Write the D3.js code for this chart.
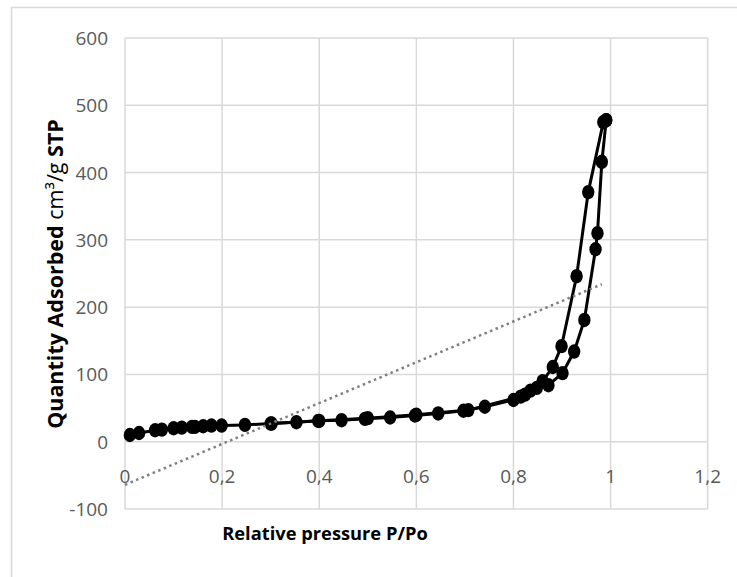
<!DOCTYPE html>
<html lang="en">
<head>
    <meta charset="UTF-8">
    <title>Adsorption isotherm</title>
    <style>
        body { margin: 0; background: #fff; }
        #chart-container { width: 737px; height: 577px; }
        .tick-label { font-family: "Open Sans", sans-serif; font-size: 19px; fill: #595959; }
        .axis-title { font-family: "Open Sans", sans-serif; fill: #000; }
    </style>
    <script src="https://cdnjs.cloudflare.com/ajax/libs/d3/7.8.5/d3.min.js"></script>
</head>
<body>
    <div id="chart-container"></div>

    <script>
        // Adsorption branch (P/Po, quantity adsorbed)
        const adsP = [0.010, 0.029, 0.062, 0.076, 0.100, 0.117, 0.138, 0.144, 0.161, 0.178, 0.199, 0.247, 0.302, 0.353, 0.398,
                      0.446, 0.494, 0.546, 0.597, 0.645, 0.697, 0.741, 0.800, 0.824, 0.848, 0.872, 0.901, 0.925, 0.946,
                      0.969, 0.973, 0.982, 0.991];
        const adsQ = [10, 13, 17, 18, 20, 21, 22, 22, 23, 24, 24, 25, 27, 29, 31,
                      32, 34, 36, 39, 42, 46, 52, 62, 70, 80, 84, 102, 134, 181,
                      286, 310, 416, 478];

        // Desorption branch
        const desP = [0.991, 0.985, 0.954, 0.930, 0.899, 0.881, 0.860, 0.835, 0.815, 0.707, 0.600, 0.500, 0.400, 0.300];
        const desQ = [478, 475, 371, 246, 142, 111, 90, 76, 67, 47, 40, 35, 31, 27];

        // Linear trendline end points
        const trendP = [0, 0.982];
        const trendQ = [-64, 234];

        const xTicks = [0, 0.2, 0.4, 0.6, 0.8, 1, 1.2];
        const yTicks = [-100, 0, 100, 200, 300, 400, 500, 600];

        const W = 737, H = 577;
        const plot = { left: 125, right: 707.7, top: 38, bottom: 509 };

        const svg = d3.select("#chart-container")
            .append("svg")
            .attr("width", W)
            .attr("height", H);

        // chart frame
        svg.append("rect")
            .attr("x", 11.5).attr("y", 7.5)
            .attr("width", 800).attr("height", 700)
            .attr("fill", "none")
            .attr("stroke", "#d9d9d9")
            .attr("stroke-width", 1.5);

        const x = d3.scaleLinear().domain([0, 1.2]).range([plot.left, plot.right]);
        const y = d3.scaleLinear().domain([-100, 600]).range([plot.bottom, plot.top]);

        const fmt = d => String(+d.toFixed(1)).replace(".", ",");

        // gridlines
        svg.append("g")
            .selectAll("line")
            .data(xTicks)
            .join("line")
            .attr("x1", d => x(d)).attr("x2", d => x(d))
            .attr("y1", plot.top).attr("y2", plot.bottom)
            .attr("stroke", "#d9d9d9").attr("stroke-width", 1.5);

        svg.append("g")
            .selectAll("line")
            .data(yTicks)
            .join("line")
            .attr("x1", plot.left).attr("x2", plot.right)
            .attr("y1", d => y(d)).attr("y2", d => y(d))
            .attr("stroke", "#d9d9d9").attr("stroke-width", 1.5);

        // tick labels
        svg.append("g")
            .selectAll("text")
            .data(yTicks)
            .join("text")
            .attr("class", "tick-label")
            .attr("x", 108)
            .attr("y", d => y(d) + 7)
            .attr("text-anchor", "end")
            .text(d => d);

        svg.append("g")
            .selectAll("text")
            .data(xTicks)
            .join("text")
            .attr("class", "tick-label")
            .attr("x", d => x(d))
            .attr("y", y(0) + 41)
            .attr("text-anchor", "middle")
            .text(fmt);

        // series
        const line = d3.line()
            .x(d => x(d[0]))
            .y(d => y(d[1]));

        const series = [d3.zip(adsP, adsQ), d3.zip(desP, desQ)];

        svg.append("g")
            .selectAll("path")
            .data(series)
            .join("path")
            .attr("d", line)
            .attr("fill", "none")
            .attr("stroke", "#000")
            .attr("stroke-width", 3);

        svg.append("g")
            .selectAll("ellipse")
            .data(series.flat())
            .join("ellipse")
            .attr("cx", d => x(d[0]))
            .attr("cy", d => y(d[1]))
            .attr("rx", 6.2)
            .attr("ry", 7.2)
            .attr("fill", "#000");

        // dotted trendline
        svg.append("path")
            .attr("d", line(d3.zip(trendP, trendQ)))
            .attr("fill", "none")
            .attr("stroke", "#7f7f7f")
            .attr("stroke-width", 2.5)
            .attr("stroke-dasharray", "2.5,3.5");

        // axis titles
        svg.append("text")
            .attr("class", "axis-title")
            .attr("x", 325)
            .attr("y", 540)
            .attr("text-anchor", "middle")
            .attr("font-weight", "bold")
            .attr("font-size", 18.3)
            .text("Relative pressure P/Po");

        const yt = svg.append("text")
            .attr("class", "axis-title")
            .attr("transform", "translate(63,274) rotate(-90)")
            .attr("text-anchor", "middle")
            .attr("font-size", 21.5);
        yt.append("tspan").attr("font-weight", "bold").text("Quantity Adsorbed ");
        yt.append("tspan").text("cm³/g ");
        yt.append("tspan").attr("font-weight", "bold").text("STP");
    </script>
</body>
</html>
